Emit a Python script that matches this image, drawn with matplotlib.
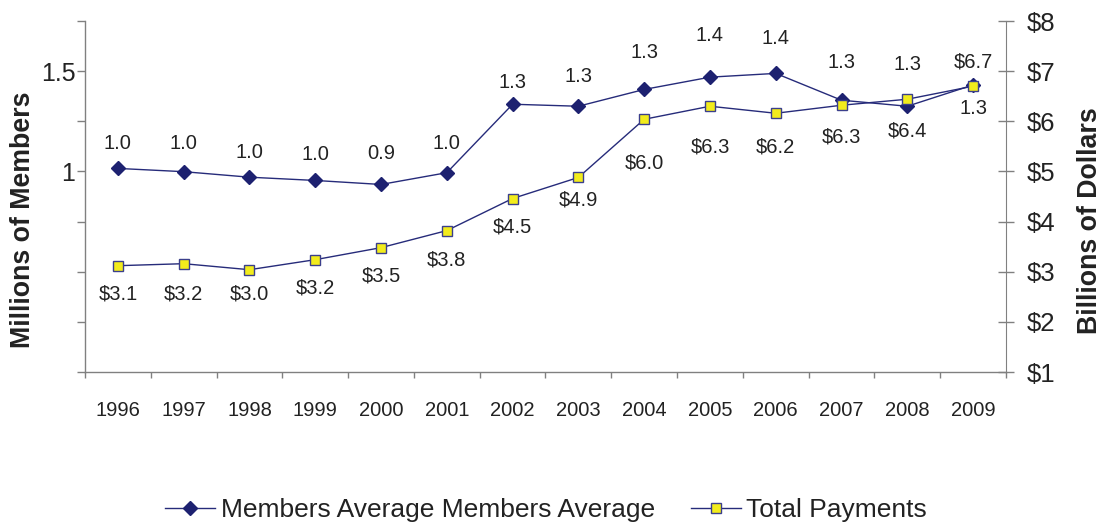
import matplotlib
matplotlib.use("Agg")
import matplotlib.pyplot as plt
from matplotlib.lines import Line2D
import numpy as np

plt.rcParams['font.family'] = ['Liberation Sans', 'DejaVu Sans']

years = ['1996', '1997', '1998', '1999', '2000', '2001', '2002',
         '2003', '2004', '2005', '2006', '2007', '2008', '2009']

# average members, millions
members = [1.012, 0.999, 0.977, 0.964, 0.948, 0.995, 1.268,
           1.260, 1.327, 1.376, 1.391, 1.284, 1.260, 1.345]

# total payments, billions of dollars
payments = [3.12, 3.16, 3.04, 3.24, 3.48, 3.82, 4.46,
            4.88, 6.04, 6.30, 6.16, 6.32, 6.44, 6.70]

left_ticks = [0, 0.25, 0.5, 0.75, 1.0, 1.25, 1.5, 1.75]
left_tick_labels = ['', '', '', '', '1', '', '1.5', '']
right_ticks = [1, 2, 3, 4, 5, 6, 7, 8]

NAVY = '#1d2170'
LINE = '#262b7a'
YELLOW = '#f2ec1c'
GREY = '#808080'
TEXT = '#222222'


def draw():
    fig = plt.figure(figsize=(11.06, 5.27), dpi=100)
    ax = fig.add_axes([85 / 1106, 1 - 372 / 527, 921 / 1106, 351 / 527])
    x = np.arange(len(years))

    # left axis: millions of members
    ax.set_xlim(-0.5, len(years) - 0.5)
    ax.set_ylim(0, 1.75)
    ax.set_yticks(left_ticks)
    ax.set_yticklabels(left_tick_labels)
    ax.tick_params(axis='y', direction='out', length=6, width=1, color=GREY,
                   labelsize=18, labelcolor=TEXT, pad=1)
    ax.set_xticks(np.arange(-0.5, len(years)))
    ax.set_xticklabels([])
    ax.tick_params(axis='x', which='major', direction='out', length=4.5,
                   width=1, color=GREY)
    ax.set_xticks(x, minor=True)
    ax.set_xticklabels(years, minor=True)
    ax.tick_params(axis='x', which='minor', length=0, labelsize=14.5,
                   labelcolor=TEXT, pad=21)
    for s in ['top', 'right']:
        ax.spines[s].set_visible(False)
    for s in ['left', 'bottom']:
        ax.spines[s].set_color(GREY)
        ax.spines[s].set_linewidth(1)

    # right axis: billions of dollars
    ax2 = ax.twinx()
    ax2.set_ylim(1, 8)
    ax2.set_yticks(right_ticks)
    ax2.set_yticklabels(['$%d' % t for t in right_ticks])
    ax2.tick_params(axis='y', direction='inout', length=11.5, width=1,
                    color=GREY, labelsize=18.5, labelcolor=TEXT, pad=9)
    for s in ['top', 'left', 'bottom']:
        ax2.spines[s].set_visible(False)
    ax2.spines['right'].set_color(GREY)

    # members share the dollar scale (1 million = $5 billion)
    axm = ax.twinx()
    axm.set_ylim(0.2, 1.6)
    axm.set_axis_off()

    axm.plot(x, members, color=LINE, lw=1, marker='D', ms=7,
             mfc=NAVY, mec=NAVY, zorder=3)
    ax2.plot(x, payments, color=LINE, lw=1, marker='s', ms=7.5,
             mfc=YELLOW, mec='#3b3f8c', mew=1, zorder=4)
    ax2.set_zorder(axm.get_zorder() + 1)
    ax2.patch.set_visible(False)

    m_dy = [25, 28, 25, 26, 31, 29, 22, 30, 37, 42, 35, 38, 42, -24]
    for xi, v, dy in zip(x, members, m_dy):
        axm.annotate('%.1f' % v, (xi, v), xytext=(0, dy),
                     textcoords='offset pixels', ha='center', va='center',
                     fontsize=14.5, color=TEXT)

    p_dy = [-28, -30, -24, -28, -28, -29, -28, -23, -44, -41, -34, -32, -32, 24]
    for xi, v, dy in zip(x, payments, p_dy):
        ax2.annotate('$%.1f' % v, (xi, v), xytext=(0, dy),
                     textcoords='offset pixels', ha='center', va='center',
                     fontsize=14.5, color=TEXT)

    fig.text(23 / 1106, 1 - 220 / 527, 'Millions of Members', rotation=90,
             ha='center', va='center', fontsize=19.3, fontweight='bold',
             color=TEXT)
    fig.text(1090 / 1106, 1 - 221 / 527, 'Billions of Dollars', rotation=90,
             ha='center', va='center', fontsize=19.3, fontweight='bold',
             color=TEXT)

    handles = [
        Line2D([], [], color=LINE, lw=1, marker='D', ms=7, mfc=NAVY, mec=NAVY),
        Line2D([], [], color=LINE, lw=1, marker='s', ms=7.5, mfc=YELLOW,
               mec='#3b3f8c'),
    ]
    fig.legend(handles, ['Members Average Members Average', 'Total Payments'],
               loc='center', bbox_to_anchor=(546 / 1106, 1 - 510 / 527),
               ncol=2, frameon=False, fontsize=19, handlelength=1.9,
               handletextpad=0.2, columnspacing=1.35, labelcolor=TEXT)

    fig.savefig('out.png', dpi=100)


if __name__ == '__main__':
    draw()
